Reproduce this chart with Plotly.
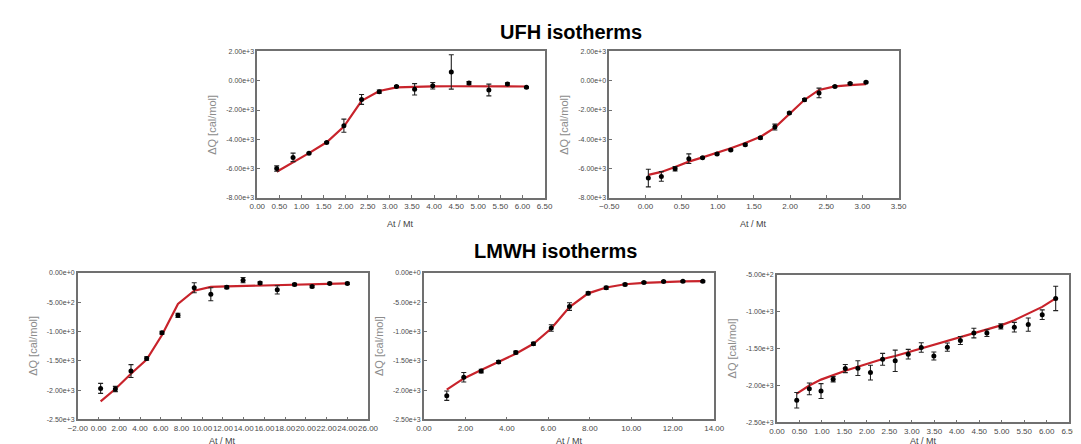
import plotly.graph_objects as go

W, H = 1081, 444

# ---------------- data ----------------
# UFH isotherm 1
x1 = [0.44, 0.81, 1.17, 1.57, 1.96, 2.36, 2.76, 3.15, 3.56, 3.97, 4.39, 4.79, 5.24, 5.66, 6.09]
y1 = [-5990, -5230, -4940, -4210, -3070, -1280, -745, -390, -590, -345, 595, -165, -635, -230, -455]
e1 = [180, 290, 60, 50, 450, 335, 110, 60, 390, 220, 1170, 110, 400, 80, 60]
fit1 = [-6210, -5590, -4940, -4200, -3130, -1370, -700, -450, -410, -390, -380, -375, -375, -380, -395]

# UFH isotherm 2
x2 = [0.04, 0.22, 0.41, 0.60, 0.79, 0.99, 1.18, 1.38, 1.59, 1.79, 1.99, 2.20, 2.40, 2.62, 2.83, 3.05]
y2 = [-6640, -6530, -6010, -5320, -5250, -4990, -4720, -4360, -3890, -3160, -2200, -1300, -835, -390, -190, -100]
e2 = [600, 330, 150, 330, 60, 60, 60, 80, 80, 200, 60, 80, 330, 60, 60, 60]
fit2 = [-6420, -6220, -5880, -5520, -5230, -4920, -4610, -4250, -3830, -3200, -2240, -1300, -630, -390, -300, -230]

# LMWH isotherm 1
x3 = [0.2, 1.62, 3.13, 4.64, 6.12, 7.66, 9.23, 10.83, 12.37, 13.94, 15.58, 17.24, 18.91, 20.6, 22.3, 24.0]
y3 = [-1970, -1980, -1675, -1460, -1020, -725, -255, -365, -245, -125, -175, -290, -200, -235, -180, -180]
e3 = [85, 45, 110, 30, 25, 35, 85, 110, 25, 45, 20, 70, 20, 20, 20, 20]
fit3 = [-2190, -1980, -1720, -1480, -1060, -530, -305, -240, -232, -225, -218, -212, -205, -198, -190, -180]

# LMWH isotherm 2
x4 = [1.10, 1.92, 2.76, 3.60, 4.43, 5.28, 6.14, 7.02, 7.92, 8.79, 9.70, 10.61, 11.56, 12.49, 13.45]
y4 = [-2095, -1780, -1675, -1520, -1360, -1210, -940, -575, -350, -255, -200, -165, -150, -145, -145]
e4 = [80, 80, 30, 25, 25, 25, 55, 65, 25, 25, 20, 15, 15, 15, 15]
fit4 = [-1990, -1800, -1655, -1520, -1380, -1210, -950, -585, -350, -250, -195, -172, -156, -145, -140]

# LMWH isotherm 3
x5 = [0.44, 0.72, 0.98, 1.25, 1.52, 1.80, 2.08, 2.35, 2.63, 2.92, 3.21, 3.49, 3.79, 4.08, 4.38, 4.67, 4.98, 5.28, 5.59, 5.90, 6.20]
y5 = [-2200, -2045, -2075, -1915, -1770, -1765, -1825, -1645, -1665, -1575, -1485, -1600, -1480, -1390, -1290, -1290, -1200, -1210, -1175, -1040, -820]
e5 = [105, 80, 100, 35, 55, 100, 100, 80, 145, 65, 65, 55, 55, 55, 65, 45, 35, 65, 90, 65, 165]
fit5 = [-2110, -2000, -1920, -1855, -1800, -1745, -1690, -1640, -1600, -1550, -1495, -1445, -1400, -1345, -1290, -1240, -1185, -1115, -1030, -935, -820]

# tick values / labels
ufh_yticks = [2000, 0, -2000, -4000, -6000, -8000]
ufh_ylabels = ["2.00e+3", "0.00e+0", "-2.00e+3", "-4.00e+3", "-6.00e+3", "-8.00e+3"]
lmwh_yticks = [0, -500, -1000, -1500, -2000, -2500]
lmwh_ylabels = ["0.00e+0", "-5.00e+2", "-1.00e+3", "-1.50e+3", "-2.00e+3", "-2.50e+3"]
lmwh3_yticks = [-500, -1000, -1500, -2000, -2500]
lmwh3_ylabels = ["-5.00e+2", "-1.00e+3", "-1.50e+3", "-2.00e+3", "-2.50e+3"]

titles = ["UFH isotherms", "LMWH isotherms"]
ytitle = "ΔQ [cal/mol]"
xtitle = "At / Mt"

# ---------------- layout geometry (pixels) ----------------
# (left, right, top, bottom)
boxes = [(244, 537, 40, 189), (603, 898, 40, 189),
         (61, 357, 265, 414), (414, 710, 265, 414), (774, 1072, 267, 417)]
xranges = [(0, 6.5, 0.5), (-0.5, 3.5, 0.5), (-2, 26, 2), (0, 14, 2), (0, 6.5, 0.5)]
yspecs = [((-8000, 2000), ufh_yticks, ufh_ylabels),
          ((-8000, 2000), ufh_yticks, ufh_ylabels),
          ((-2500, 0), lmwh_yticks, lmwh_ylabels),
          ((-2500, 0), lmwh_yticks, lmwh_ylabels),
          ((-2500, -500), lmwh3_yticks, lmwh3_ylabels)]

series = [(x1, y1, e1, fit1), (x2, y2, e2, fit2), (x3, y3, e3, fit3),
          (x4, y4, e4, fit4), (x5, y5, e5, fit5)]

RED = "#c8232b"
AXIS = "#707070"
TICKC = "#4a4a4a"
FONT = "Liberation Sans, Arial, sans-serif"

fig = go.Figure()
layout = dict(
    width=W, height=H, margin=dict(l=0, r=0, t=0, b=0),
    paper_bgcolor="white", plot_bgcolor="white", showlegend=False,
    font=dict(family=FONT, color=TICKC),
)
annotations = []

for i, ((xs, ys, es, fs), (l, r, t, b), (x0, x1r, dx), (yr, ytv, ytt)) in enumerate(
        zip(series, boxes, xranges, yspecs)):
    n = "" if i == 0 else str(i + 1)
    xa, ya = "x" + n, "y" + n
    fig.add_trace(go.Scatter(x=xs, y=fs, mode="lines", line=dict(color=RED, width=2.2),
                             xaxis=xa, yaxis=ya, hoverinfo="skip"))
    fig.add_trace(go.Scatter(x=xs, y=ys, mode="markers",
                             marker=dict(color="black", size=5),
                             error_y=dict(type="data", array=es, color="#222", thickness=1.1, width=2.5),
                             xaxis=xa, yaxis=ya))
    layout["xaxis" + n] = dict(
        domain=[l / W, r / W], anchor=ya, range=[x0, x1r], dtick=dx, tick0=x0,
        tickformat=".2f", tickangle=0, showgrid=False, zeroline=False,
        showline=True, linecolor=AXIS, linewidth=1.6, mirror=True,
        ticks="inside", ticklen=3, tickcolor=AXIS,
        tickfont=dict(size=8, color=TICKC, family=FONT),
    )
    layout["yaxis" + n] = dict(
        domain=[1 - b / H, 1 - t / H], anchor=xa, range=list(yr),
        tickvals=ytv, ticktext=ytt, showgrid=False, zeroline=False,
        showline=True, linecolor=AXIS, linewidth=1.6, mirror=True,
        ticks="inside", ticklen=3, tickcolor=AXIS,
        tickfont=dict(size=7, color=TICKC, family=FONT),
    )
    # axis titles
    annotations.append(dict(text=ytitle, x=(l - 46) / W, y=1 - ((t + b) / 2) / H,
                            xref="paper", yref="paper", textangle=-90, showarrow=False,
                            xanchor="center", yanchor="middle",
                            font=dict(size=11, color="#8c8c8c", family=FONT)))
    annotations.append(dict(text=xtitle, x=((l + r) / 2) / W, y=1 - min(b + 26, 436) / H,
                            xref="paper", yref="paper", showarrow=False,
                            xanchor="center", yanchor="middle",
                            font=dict(size=9, color="#444", family=FONT)))

annotations.append(dict(text="<b>" + titles[0] + "</b>", x=564 / W, y=1 - 20.5 / H,
                        xref="paper", yref="paper", showarrow=False,
                        xanchor="center", yanchor="middle",
                        font=dict(size=20, color="black", family=FONT)))
annotations.append(dict(text="<b>" + titles[1] + "</b>", x=548 / W, y=1 - 242.5 / H,
                        xref="paper", yref="paper", showarrow=False,
                        xanchor="center", yanchor="middle",
                        font=dict(size=20, color="black", family=FONT)))
layout["annotations"] = annotations
fig.update_layout(**layout)
fig.write_html("out.html")
